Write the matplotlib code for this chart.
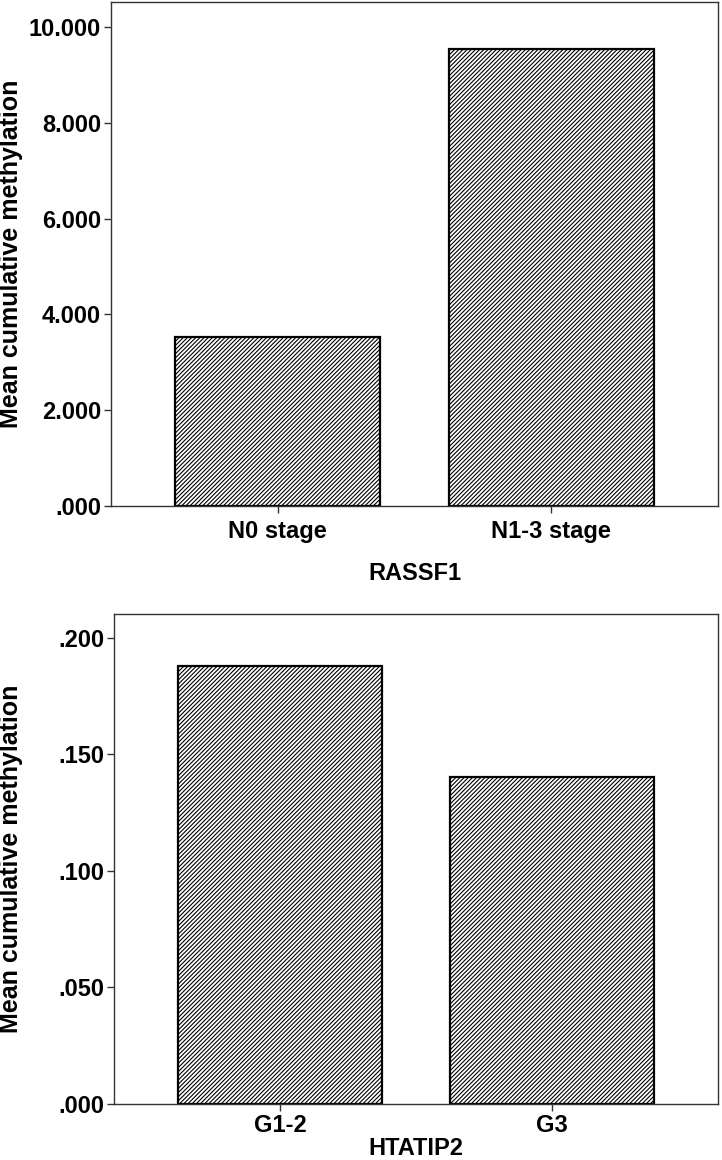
import matplotlib
matplotlib.use('Agg')
import matplotlib.pyplot as plt
from matplotlib.ticker import FuncFormatter, MultipleLocator

plt.rcParams['font.family'] = ['Liberation Sans', 'DejaVu Sans']
plt.rcParams['font.weight'] = 'bold'
plt.rcParams['hatch.linewidth'] = 0.8
plt.rcParams['hatch.color'] = '#2a2a2a'

# top panel: RASSF1 by N stage
rassf1_groups = ['N0 stage', 'N1-3 stage']
rassf1_means = [3.53, 9.54]

# bottom panel: HTATIP2 by grade
htatip2_groups = ['G1-2', 'G3']
htatip2_means = [0.188, 0.1405]


def spss_fmt(v, pos):
    s = '%.3f' % v
    if s.startswith('0.'):
        s = s[1:]
    return s


def draw_panel(ax, groups, means, xlabel, ymax, step, xpad, tpad):
    x = range(len(groups))
    ax.bar(x, means, width=0.75, color='white', edgecolor='black',
           linewidth=1.6, hatch='////////', zorder=2)
    ax.set_xlim(-0.61, 1.61)
    ax.set_ylim(0, ymax)
    ax.yaxis.set_major_locator(MultipleLocator(step))
    ax.yaxis.set_major_formatter(FuncFormatter(spss_fmt))
    ax.set_xticks(list(x))
    ax.set_xticklabels(groups)
    for s in ax.spines.values():
        s.set_color('#333333')
        s.set_linewidth(1.0)
    ax.tick_params(axis='both', direction='out', length=5, width=1,
                   color='#333333', labelsize=17, pad=2)
    ax.tick_params(axis='x', pad=tpad)
    ax.set_xlabel(xlabel, fontsize=17, fontweight='bold', labelpad=xpad)
    ax.set_ylabel('Mean cumulative methylation', fontsize=18,
                  fontweight='bold')
    for lab in ax.get_xticklabels() + ax.get_yticklabels():
        lab.set_fontweight('bold')


fig = plt.figure(figsize=(7.22, 11.6), dpi=100)

ax1 = fig.add_axes([0.1537, 0.5638, 0.8408, 0.4345])
draw_panel(ax1, rassf1_groups, rassf1_means, 'RASSF1', 10.52, 2.0, 14, 5)
ax1.yaxis.set_label_coords(-0.145, 0.5)

ax2 = fig.add_axes([0.158, 0.0483, 0.8365, 0.4224])
draw_panel(ax2, htatip2_groups, htatip2_means, 'HTATIP2', 0.2103, 0.05, 0, 2)
ax2.yaxis.set_label_coords(-0.15, 0.5)

fig.savefig('out.png', dpi=100)
